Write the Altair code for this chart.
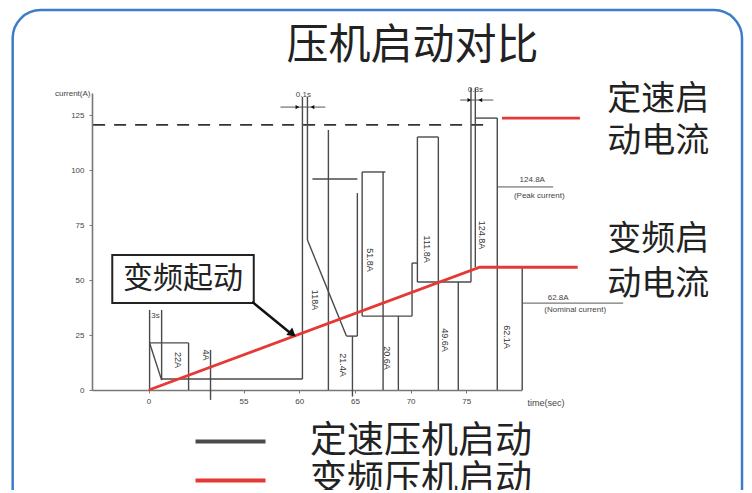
import altair as alt
import pandas as pd

# ---------------- data (time in s, current in A) ----------------
# fixed-speed compressor start trace, drawn as line segments
seg_t1 = [46.57, 47.65, 46.57, 46.57, 50.07, 47.65, 52.04, 60.29, 60.74, 60.74, 64.24, 64.78, 65.22,
          62.62, 61.19, 65.65, 65.65, 67.53, 65.65, 68.90, 70.13, 70.13, 70.61, 70.61, 72.49, 70.61,
          74.28, 75.42, 75.81, 75.81, 77.78, 80.02]
seg_a1 = [0, 36.4, 21.4, 21.4, 21.4, 5.0, 18.2, 5.0, 133.2, 68.2, 24.5, 24.5, 24.5,
          118.2, 95.9, 33.6, 99.1, 99.1, 33.6, 33.6, 33.6, 57.7, 49.1, 115.0, 115.0, 49.1,
          49.1, 49.1, 137.3, 123.6, 123.6, 55.5]
seg_t2 = [46.57, 47.65, 50.07, 47.65, 50.07, 60.29, 52.04, 60.29, 60.74, 64.24, 65.22, 64.78, 65.22,
          62.62, 65.22, 65.65, 67.74, 67.53, 70.13, 68.90, 70.13, 70.61, 70.61, 72.49, 72.49, 75.42,
          74.28, 75.42, 75.81, 77.78, 77.78, 80.02]
seg_a2 = [36.4, 4.5, 21.4, 4.5, 0, 5.0, -4.5, 133.2, 68.2, 24.5, 24.5, -3.0, 89.5,
          0, 95.9, 99.1, 99.1, 0, 33.6, 0, 57.7, 57.7, 115.0, 115.0, 0, 49.1,
          0, 137.3, 55.9, 123.6, 0, 0]

# inverter compressor start (red)
red_t = [46.5, 76.2, 85.0]
red_a = [0, 55.8, 55.8]
peak_t = [78.2, 85.2]
peak_a = [123.6, 123.6]

# dashed peak level
dash_t = [41.5, 77.15]
dash_a = 120.5

# dimension / underline lines
dim_t1 = [58.32, 74.46, 77.78, 80.02]
dim_t2 = [62.35, 77.42, 82.80, 89.08]
dim_a = [128.6, 131.8, 92.3, 39.5]

# arrow heads
head_t = [59.84, 61.19, 75.27, 76.26, 59.3]
head_a = [128.6, 128.6, 131.8, 131.8, 25.9]
head_shape = ["triangle-right", "triangle-left", "triangle-right", "triangle-left", "triangle"]
head_angle = [0, 0, 0, 0, 129]
head_size = [18, 18, 18, 18, 90]

# vertical current labels
vlab_text = ["22A", "4A", "118A", "21.4A", "51.8A", "20.6A", "111.8A", "49.6A", "124.8A", "62.1A"]
vlab_t = [49.08, 51.59, 61.46, 63.97, 66.39, 67.91, 71.50, 73.12, 76.43, 78.68]
vlab_a = [13.6, 15.9, 40.9, 11.4, 59.1, 14.5, 64.0, 22.7, 70.5, 24.1]

# small horizontal notes
note_text = ["3s", "0.1s", "0.3s", "124.8A", "(Peak current)", "62.8A", "(Nominal current)"]
note_t = [47.1, 60.38, 75.81, 80.92, 81.55, 83.25, 84.78]
note_a = [33.6, 134.1, 136.4, 95.5, 88.4, 41.8, 36.4]

# big right-hand captions
cap_text = ["定速启", "动电流", "变频启", "动电流"]
cap_t = [87.65, 87.65, 87.65, 87.65]
cap_a = [131.8, 112.7, 68.2, 47.7]

# heading
title_text = "压机启动对比"
title_pos = [70.16, 156.4]

# callout
call_text = "变频起动"
call_box = [43.22, 55.92, 39.5, 61.4]  # t1, t2, a1, a2
call_line = [55.78, 40.1, 59.2, 25.9]
border = [34.28, 99.75, 172.7, -60.0]

series = ["定速压机启动", "变频压机启动"]
series_colors = ["#4a4a4a", "#e53935"]

# ---------------- build tables ----------------
seg_df = pd.DataFrame({"t1": seg_t1, "a1": seg_a1, "t2": seg_t2, "a2": seg_a2, "series": series[0]})
red_df = pd.DataFrame({
    "t": red_t + peak_t,
    "a": red_a + peak_a,
    "part": ["ramp"] * len(red_t) + ["peak"] * len(peak_t),
    "series": series[1],
})
dash_df = pd.DataFrame({"t1": [dash_t[0]], "t2": [dash_t[1]], "a": [dash_a]})
dim_df = pd.DataFrame({"t1": dim_t1, "t2": dim_t2, "a": dim_a})
head_df = pd.DataFrame({"t": head_t, "a": head_a, "shape": head_shape, "angle": head_angle, "size": head_size})
vlab_df = pd.DataFrame({"t": vlab_t, "a": vlab_a, "text": vlab_text})
note_df = pd.DataFrame({"t": note_t, "a": note_a, "text": note_text})
cap_df = pd.DataFrame({"t": cap_t, "a": cap_a, "text": cap_text})
title_df = pd.DataFrame({"t": [title_pos[0]], "a": [title_pos[1]], "text": [title_text]})
box_df = pd.DataFrame({"t1": [call_box[0]], "t2": [call_box[1]], "a1": [call_box[2]], "a2": [call_box[3]],
                       "tc": [(call_box[0] + call_box[1]) / 2], "ac": [(call_box[2] + call_box[3]) / 2],
                       "text": [call_text]})
cline_df = pd.DataFrame({"t1": [call_line[0]], "a1": [call_line[1]], "t2": [call_line[2]], "a2": [call_line[3]]})
border_df = pd.DataFrame({"t1": [border[0]], "t2": [border[1]], "a1": [border[2]], "a2": [border[3]]})

x_scale = alt.Scale(domain=[41.4, 80.0], nice=False, zero=False)
y_scale = alt.Scale(domain=[0, 135], nice=False, zero=False)

x_axis = alt.Axis(values=[46.48, 55, 60, 65, 70, 75],
                  labelExpr="datum.value < 50 ? '0' : format(datum.value, 'd')",
                  title="time(sec)", titleX=435, titleY=12, titleAlign="left", titleBaseline="middle",
                  titleFontSize=9, titleFontWeight="normal", titleFont="Liberation Sans", titleColor="#444",
                  labelFontSize=8, labelFont="Liberation Sans", labelColor="#444",
                  domainColor="#777", domainWidth=1.6, tickColor="#777", tickSize=3, labelPadding=4, grid=False)
y_axis = alt.Axis(values=[0, 25, 50, 75, 100, 125], title="current(A)", titleAngle=0, titleX=-2, titleY=0,
                  titleAlign="right", titleBaseline="middle", titleFontSize=8, titleFontWeight="normal",
                  titleFont="Liberation Sans", titleColor="#444",
                  labelFontSize=8, labelFont="Liberation Sans", labelColor="#444",
                  domainColor="#777", domainWidth=1.6, tickColor="#777", tickSize=3, labelPadding=5, grid=False)

color_scale = alt.Scale(domain=series, range=series_colors)
legend = alt.Legend(title=None, orient="none", legendX=120, legendY=330, symbolType="M-5,0H5",
                    symbolSize=196, symbolStrokeWidth=4, labelFontSize=37, labelFont="Noto Sans CJK SC",
                    labelOffset=61, rowPadding=1, padding=0, labelColor="#222", labelLimit=400)

border_layer = alt.Chart(border_df).mark_rect(fillOpacity=0, stroke="#3d7cc9", strokeWidth=2.5,
                                              cornerRadius=28).encode(
    x=alt.X("t1:Q", scale=x_scale, axis=x_axis), x2="t2:Q",
    y=alt.Y("a1:Q", scale=y_scale, axis=y_axis), y2="a2:Q")

seg_layer = alt.Chart(seg_df).mark_rule(strokeWidth=1.4).encode(
    x="t1:Q", x2="t2:Q", y="a1:Q", y2="a2:Q",
    color=alt.Color("series:N", scale=color_scale, legend=legend))

dash_layer = alt.Chart(dash_df).mark_rule(strokeDash=[12, 9], strokeWidth=1.6, color="#333").encode(
    x="t1:Q", x2="t2:Q", y="a:Q")

dim_layer = alt.Chart(dim_df).mark_rule(strokeWidth=1, color="#555").encode(
    x="t1:Q", x2="t2:Q", y="a:Q")

red_layer = alt.Chart(red_df).mark_line(strokeWidth=2.8).encode(
    x="t:Q", y="a:Q", detail="part:N",
    color=alt.Color("series:N", scale=color_scale, legend=legend))

head_layer = alt.Chart(head_df).mark_point(filled=True, color="#111", opacity=1).encode(
    x="t:Q", y="a:Q",
    shape=alt.Shape("shape:N", scale=None),
    angle=alt.Angle("angle:Q", scale=None),
    size=alt.Size("size:Q", scale=None))

vlab_layer = alt.Chart(vlab_df).mark_text(angle=90, fontSize=9, font="Liberation Sans", color="#333").encode(
    x="t:Q", y="a:Q", text="text:N")

note_layer = alt.Chart(note_df).mark_text(fontSize=8, font="Liberation Sans", color="#444").encode(
    x="t:Q", y="a:Q", text="text:N")

cap_layer = alt.Chart(cap_df).mark_text(align="left", baseline="middle", fontSize=34,
                                        font="Noto Sans CJK SC", color="#222").encode(
    x="t:Q", y="a:Q", text="text:N")

title_layer = alt.Chart(title_df).mark_text(align="center", baseline="middle", fontSize=42,
                                            font="Noto Sans CJK SC", color="#222").encode(
    x="t:Q", y="a:Q", text="text:N")

box_layer = alt.Chart(box_df).mark_rect(fill="white", stroke="#222", strokeWidth=2).encode(
    x="t1:Q", x2="t2:Q", y="a1:Q", y2="a2:Q")
box_text = alt.Chart(box_df).mark_text(fontSize=30, font="Noto Sans CJK SC", color="#222").encode(
    x="tc:Q", y="ac:Q", text="text:N")
cline_layer = alt.Chart(cline_df).mark_rule(strokeWidth=2.5, color="#111").encode(
    x="t1:Q", x2="t2:Q", y="a1:Q", y2="a2:Q")

chart = alt.layer(
    border_layer, dash_layer, seg_layer, dim_layer, red_layer, vlab_layer, note_layer,
    cap_layer, title_layer, box_layer, box_text, cline_layer, head_layer
).properties(
    width=430, height=297,
    autosize=alt.AutoSizeParams(type="none"),
    padding={"left": 84, "top": 85, "right": 222, "bottom": 100},
).configure_view(stroke=None).configure_axis(grid=False)

chart.save("out.html", embed_options={"renderer": "svg", "actions": False})
